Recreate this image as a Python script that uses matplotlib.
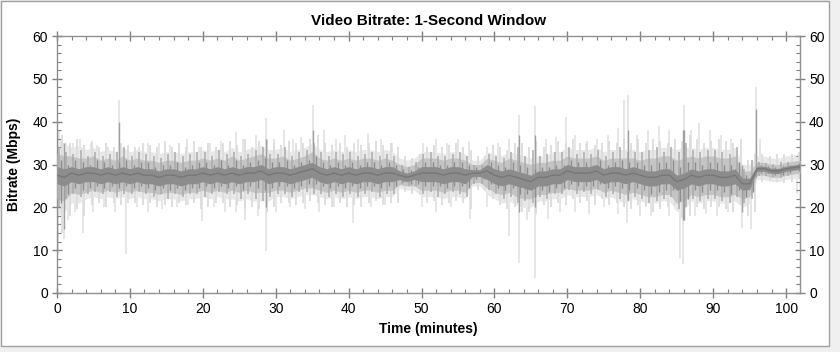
import numpy as np
import matplotlib
matplotlib.use("Agg")
import matplotlib.pyplot as plt
from matplotlib.patches import Rectangle
from matplotlib.ticker import MultipleLocator

plt.rcParams['font.family'] = ['Liberation Sans', 'DejaVu Sans']

# time in minutes (1-minute resolution envelope readings)
minutes = list(range(0, 102))

center = [27.5,27,28,27.5,28,28,27.5,28,27.5,28,
          27.5,28,27.5,27.5,27,27.5,27.5,27,27.5,27.5,
          28,27.5,28,27.5,28,27.5,28,28,28.5,27.5,
          28,28,27.5,28,28.5,29,28,27.5,28,27.5,
          28,27.5,28,28,27.5,28,28,27.5,27,27.5,
          28,28,28,27.5,28,28,27.5,28,28,28.5,
          27.5,27,27.5,27,26.5,26,27,27,27.5,27.5,
          28.5,28,28,28,28.5,27.5,28,28,27.5,28,
          27.5,27,27,27.5,27.5,26,26.5,27.5,27,27.5,
          27.5,27,27,27.5,25.5,25.5,29,29,28.5,28.5,
          29,29.5]

dark_hi = [29.5,29,29.5,29,29.5,29.5,29,29.5,29,29.5,
           29,29.5,29,29,28.5,29,29,28.5,29,29,
           29.5,29,29.5,29,29.5,29,29.5,29.5,30,29,
           29.5,29.5,29,29.5,30,30.5,29.5,29,29.5,29,
           29.5,29,29.5,29.5,29,29.5,29.5,28.5,28,28.5,
           29.5,29.5,29.5,29,29.5,29.5,29,28.8,28.8,30,
           29,28.5,29,28.5,28,27.5,28.5,28.5,29,29,
           30,29.5,29.5,29.5,30,29,29.5,29.5,29,29.5,
           29,28.5,28.5,29,29,27.5,28,29,28.5,29,
           29,28.5,28.5,29,26.8,26.8,29.6,29.6,29.1,29.1,
           29.6,30.1]

dark_lo = [25.5,25,26,25.5,26,26,25.5,26,25.5,26,
           25.5,26,25.5,25.5,25,25.5,25.5,25,25.5,25.5,
           26,25.5,26,25.5,26,25.5,26,26,26.5,25.5,
           26,26,25.5,26,26.5,27,26,25.5,26,25.5,
           26,25.5,26,26,25.5,26,26,26.5,26,26.5,
           26,26,26,25.5,26,26,25.5,27.2,27.2,26.5,
           25.5,25,25.5,25,24.5,24,25,25,25.5,25.5,
           26.5,26,26,26,26.5,25.5,26,26,25.5,26,
           25.5,25,25,25.5,25.5,24,24.5,25.5,25,25.5,
           25.5,25,25,25.5,24,24.2,28.4,28.4,27.9,27.9,
           28.4,28.9]

# dark excursions read between minute marks (at minute + 0.5)
dark2_hi = [31,30,31,30.5,30,31,30.5,30,30.5,31,
            30,30.5,30.5,29.5,30,30,30.5,29.5,30,30.5,
            30.5,30,31,30,31,30,30.5,31,31.5,30.5,
            30.5,31,30,30.5,31,32,30.5,30,30.5,30,
            30.5,30,30.5,30.5,30,30.5,30,29,28.8,29.5,
            30.5,30.5,30,30,30.5,30.5,30,29.3,29.3,30.5,
            30,29.5,30.5,30,29.5,29,29.5,29.5,30,30,
            31,30.5,30.5,30,31,30,30.5,31,30.5,30.5,
            30,30,30.5,30.5,31,29.5,30.5,30.5,30,30.5,
            30.5,30,30,30.5,27.5,27.5,29.8,29.7,29.5,29.6,
            30,30.3]
dark2_lo = [21,23,24.5,24,24.5,25,24.5,25,24.5,25,
            24.5,25,24.5,24,24.5,24,24.5,24,24.5,24.5,
            25,24.5,25,24.5,25,24,25,24.5,24,24.5,
            25,25,24.5,25,25.5,25.5,25,24.5,25,24.5,
            25,24.5,25,25,24.5,25,25,26,25.5,25.5,
            25,25,25,24.5,25,25,24.5,26.6,26.6,25.5,
            24.5,24,24.5,23,23,22.5,24,23.5,24.5,24.5,
            25.5,25,25,25,25.5,24.5,25,24.5,24,24.5,
            24,23,23.5,24,24,21.5,22,24,23.5,24,
            24,23.5,23,24,22.5,23.5,28,28,27.5,27.5,
            28,28.5]

mid_hi = [32.5,32,32,31.5,31.5,32,31,31.5,31,32,
          31,31.5,31,31,30.5,31,31,30.5,31,31,
          31.5,31,31.5,31,32,31,31.5,32,32.5,31.5,
          31.5,32,31,31.5,32,33,31.5,31,31.5,31,
          31.5,31,31.5,31.5,31,31.5,31,30,29.5,30,
          31.5,31.5,31.5,31,31.5,31.5,31,30,30,31.5,
          31,30.5,31.5,31,30.5,30,30.5,30.5,31,31,
          32,31.5,31.5,31.5,32,31,31.5,31.5,31.5,31.5,
          31,31.5,31.5,32,32,31,31.5,32,31.5,32,
          32,31.5,31.5,32,28.5,28.5,30.5,30.5,30,30,
          30.5,31]

mid_lo = [22,21.5,23.5,23,23.5,24,23.5,24,23.5,24,
          23.5,24,23.5,23.5,23,23.5,23.5,23,23.5,23.5,
          24,23.5,24,23.5,24,23.5,24,23.5,23.5,23.5,
          24,24,23.5,24,24.5,24.5,24,23.5,24,23.5,
          24,23.5,24,24,23.5,24,24,25.3,25,25,
          24,24,24,23.5,24,24,23.5,25.8,25.8,24.5,
          23.5,23,23.5,22.5,22,22,23,23,23.5,23.5,
          24.5,24,24,24,24.5,23.5,24,23.5,23,23.5,
          23,22.5,22.5,23,23,21,21.5,23,22.5,23,
          23,22.5,22.5,23,22,22.5,27.5,27.5,27,27,
          27.5,28]

light_hi = [36,35,34,34.5,33.5,34,33,33.5,33,34,
            33,33.5,33,33,32.5,33,33,32.5,33,33,
            33.5,33,33.5,33,34,33,33.5,34,34.5,33.5,
            33.5,34,33,33.5,34,35,33.5,33,33.5,33,
            33.5,33,33.5,33.5,33,33.5,33,31.5,31,31.5,
            33,33,33,32.5,33,33,32.5,31,31,33,
            32.5,32,33,32.5,32,31.5,32,32,33,33,
            34,33.5,33.5,33.5,34,33,33.5,33.5,33.5,33.5,
            33,33.5,33.5,34,34,33.5,34,34,33.5,34,
            34,33.5,33.5,34,30,30,32,32,31.5,31.5,
            32,32.5]

light_lo = [18,19,21,21,22,22.5,22,22.5,22,22.5,
            22,22.5,22,22,21.5,22,22,21.5,22,22,
            22.5,22,22.5,22,22,21.5,22,21.5,21.5,21.5,
            22.5,22.5,22,22.5,23,23,22.5,22,22.5,22,
            22.5,22,22.5,22.5,22,22.5,22.5,24.5,24,24,
            22.5,22.5,22.5,22,22.5,22.5,22,25,25,23,
            22,21,21.5,20.5,20,20,21.5,21.5,22,22,
            23,22.5,22.5,22.5,23,22,22.5,21.5,21,22,
            21.5,21,21,21.5,21.5,19,19.5,21.5,21,21.5,
            21.5,21,21,21.5,20,21,26.5,26.5,26,26,
            26.5,27]

# medium-grey excursions (at minute + 0.25)
mid2_hi = [34,33,32.5,33.5,32,33,32,32.5,33,34,
           32,33,32.5,32,31.5,32.5,33,32,32.5,33,
           33,32,33.5,32.5,33,32,32.5,33.5,34,32.5,
           32.5,34,32,33,33.5,35,33,32,33,32.5,
           33,32,32.5,33,32,32.5,32,30,29.5,30.5,
           32.5,33,32,32,32.5,33,32,30,30,32.5,
           32,31.5,33,34,32,33.5,32,32.5,33,33,
           34,32.5,33,32.5,33.5,32,33,34,33,33,
           33,33.5,34,33,34,33,35,33.5,33,33.5,
           33.5,33,32.5,34,29,31,30.5,30.3,30.2,30.5,
           30.5,31]
mid2_lo = [20,22,23,22.5,23,23.5,23,23.5,22.5,23,
           23,23.5,23,22.5,23,22,23,22.5,23,23,
           22.5,23,23.5,23,23,22,23,22,21.5,22.5,
           23,23,22.5,23.5,23.5,23,23,22.5,23,22.5,
           23,22.5,23,23.5,22.5,23,23,25.5,25,25,
           23,23.5,22.5,23,23.5,23,22.5,25.5,25.5,24,
           23,22,22.5,21,21.5,21,22.5,22,23,23,
           24,23,23.5,23,24,22.5,23,22,21.5,22.5,
           22,21,21.5,22,22.5,19.5,20,22,21.5,22,
           22,21.5,21,22.5,21,22,27.2,27.3,27,26.8,
           27.3,27.8]

# light-grey excursions (at minute + 0.75)
light2_hi = [37,35,36,34.5,35.5,34,35,34,35,34.5,
             34,35,34.5,34,35.5,34,35,34,35.5,34,
             35,34,35,35.5,34.5,36,34,35.5,36,35,
             34.5,35.5,35,35,36,37,35,34.5,35,34,
             35,34.5,35,35.5,34.5,35,34,32,31.5,32.5,
             34,34.5,34,34.5,35,34,33.5,32,32,34.5,
             34,33.5,35,35,34,35.5,34,34.5,35.5,35,
             36,35,35.5,34.5,35,35.5,35,36,35,36,
             35,36,35.5,35,36,35.5,37,36,35,35.5,
             36,35.5,35,36,31,32.5,32.5,32,32.5,32.5,
             32.5,33]
light2_lo = [14,18,19.5,18,20.5,21,20,21,20.5,21,
             21,20.5,21,20,20.5,20,21,20.5,21,19.5,
             20,21,21,20,20.5,19.5,20,19.5,19,20,
             21,21,20.5,21,21.5,21,20.5,20,21,20,
             20.5,20,21,21.5,20.5,21,21,23.5,23,23,
             21,21.5,20.5,21,21.5,21,19.5,24,24,22,
             20.5,19.5,20,19,19,18.5,20.5,20,21,20.5,
             22,21,21.5,20.5,22,20.5,21,20,19.5,20.5,
             20,19,19.5,20,20.5,17.5,18,20,19.5,20,
             20,19.5,19,20.5,18,19,26,26.2,25.8,25.6,
             26,26.5]

# isolated upward spikes: time (min), peak (Mbps)
spike_up_t = [0.3,0.7,1.3,2.2,3.2,4.6,5.5,7.0,8.5,9.7,11.2,12.5,14.0,15.5,17.8,19.5,21,22.5,
              24.6,25.5,27.3,28.6,29.8,31.2,32.4,33.5,35.1,36.6,38.2,39.5,41.3,42.7,44.5,46.0,
              50.2,52.0,53.5,55.0,56.5,59.0,60.5,62.0,63.4,65.6,67.0,68.5,69.8,71.0,72.5,74.0,
              75.5,77.0,77.8,78.3,79.5,81.0,82.5,84.0,86.0,87.0,88.0,89.5,91.0,92.5,95.9,96.4]
spike_up_v = [38,36,35,35,36,35,34.5,34,45,34,34,35,35,34.5,36,34,35,35.5,
              37.5,36,37,40.8,36,38,36,36.5,44,38,36,37,36,37.4,36,35,
              35,36,35,36,35.5,34,35,36,41.6,43.6,36,36.5,41,37,35,36,
              37,38.5,45,46.2,37,38,39,38,43.9,38,39.7,38,37,36,48,36]

# isolated downward spikes: time (min), trough (Mbps)
spike_dn_t = [0.2,0.9,1.5,2.5,3.6,5.0,6.5,8.0,9.5,11,12.5,14.4,16.5,18,19.9,21.5,23,24.5,25.8,
              27.5,28.6,30,32,34,36,38,40.6,43,45,50,52,54,56.6,59,62,63.4,64.5,65.6,67.3,
              69,71,73,75,77,78.2,80,81.5,82.7,84,85.5,85.9,87.5,89,90.5,92,94.0,95.2,101.5]
spike_dn_v = [9,12.6,17,19,14,19,20,19,9.1,20,19,19.6,20,20.5,16.8,20,19,19,17,
              18,9.8,19,20,19.5,19,20,16.4,20,20.5,20,19,20,17.2,20,13.3,7,17,3.5,17.3,
              19,19,18.5,20,18.5,16.4,18,18,19.6,18,8.2,6.8,18,18.5,18,19,15.1,15,23]

# darker spike cores: time, low, high
core_t = [0.9,8.5,28.6,35.1,63.4,65.6,78.3,86.0,85.9,94.0,95.9]
core_lo = [15,26,20,25,19,20,22,17,17,19,27]
core_hi = [35,40,36,38,37,37,38,38,38,30,43]

fig = plt.figure(figsize=(8.4, 3.52), dpi=100, facecolor='#f0f0f0')
fig.patches.append(Rectangle((1/840, 1-346/352), 828/840, 345/352, transform=fig.transFigure,
                             facecolor='white', edgecolor='#a0a0a0', lw=1, zorder=-10))
ax = fig.add_axes([57/840, 1-293/352, (800-57)/840, (293-36)/352])
ax.set_facecolor('white')

t = np.array(minutes, dtype=float)
t[-1] = 101.9
t_mid2 = t + 0.25
t_dark2 = np.minimum(t + 0.5, 101.8)
t_light2 = np.minimum(t + 0.75, 101.8)

ax.vlines(spike_up_t, 28, spike_up_v, color='#e2e2e2', lw=1.2, zorder=1)
ax.vlines(spike_dn_t, spike_dn_v, 27, color='#e2e2e2', lw=1.2, zorder=1)
ax.fill_between(t, light_lo, light_hi, color='#e8e8e8', lw=0, zorder=1.5)
ax.vlines(t_light2, light2_lo, light2_hi, color='#dcdcdc', lw=1.3, zorder=2)
ax.fill_between(t, mid_lo, mid_hi, color='#c4c4c4', lw=0, zorder=3)
ax.vlines(t_mid2, mid2_lo, mid2_hi, color='#ababab', lw=1.1, zorder=3.2)
ax.vlines(core_t, core_lo, core_hi, color='#a0a0a0', lw=1.0, zorder=3.5)
ax.fill_between(t, dark_lo, dark_hi, color='#8c8c8c', lw=0, zorder=4)
ax.vlines(t_dark2, dark2_lo, dark2_hi, color='#8c8c8c', lw=1.0, zorder=4.2)
ax.plot(t, center, color='#777777', lw=1.0, zorder=5)

ax.set_xlim(0, 101.9)
ax.set_ylim(0, 60)
ax.xaxis.set_major_locator(MultipleLocator(10))
ax.xaxis.set_minor_locator(MultipleLocator(2))
ax.yaxis.set_major_locator(MultipleLocator(10))
ax.yaxis.set_minor_locator(MultipleLocator(2))
ax.tick_params(which='both', top=True, right=True, labelright=True, color='#808080',
               labelsize=10, labelcolor='black')
ax.tick_params(which='major', direction='inout', length=7, width=1, pad=3)
ax.tick_params(which='minor', direction='in', length=3, width=0.8)
for s in ax.spines.values():
    s.set_color('#909090')
    s.set_linewidth(1)

ax.set_title('Video Bitrate: 1-Second Window', fontsize=11, fontweight='bold', pad=8)
ax.set_xlabel('Time (minutes)', fontsize=10, fontweight='bold', labelpad=4)
ax.set_ylabel('Bitrate (Mbps)', fontsize=10, fontweight='bold', labelpad=8)

fig.savefig('out.png', dpi=100, facecolor=fig.get_facecolor())
